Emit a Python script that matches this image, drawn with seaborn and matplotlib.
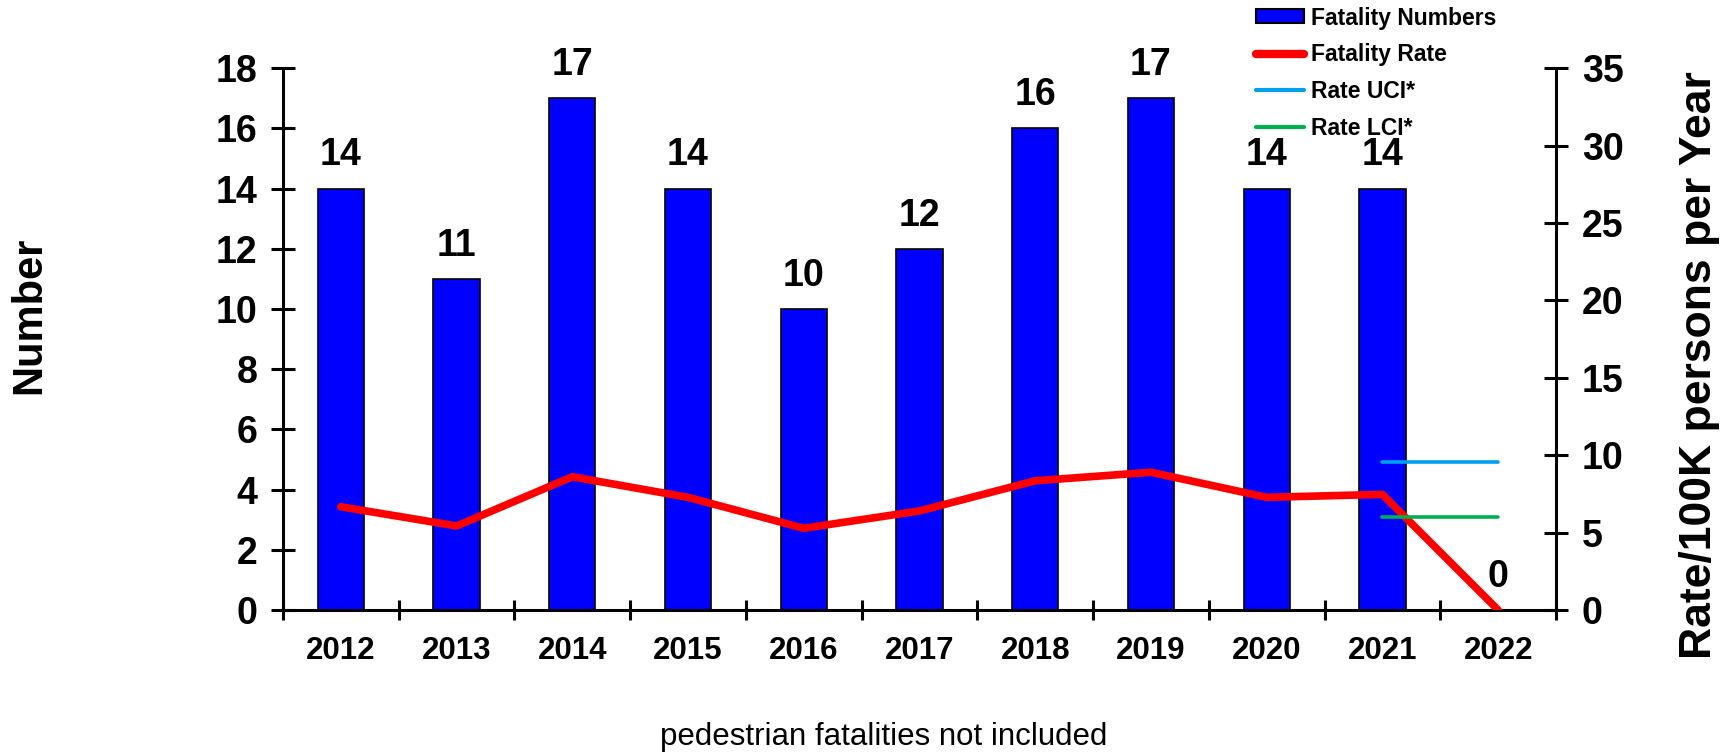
import numpy as np
import pandas as pd
import matplotlib
matplotlib.use('Agg')
import matplotlib.pyplot as plt
from matplotlib.patches import Patch
from matplotlib.lines import Line2D
import seaborn as sns

# data
years = ['2012', '2013', '2014', '2015', '2016', '2017', '2018', '2019', '2020', '2021', '2022']
fatalities = [14, 11, 17, 14, 10, 12, 16, 17, 14, 14, 0]
rate = [6.67, 5.43, 8.61, 7.28, 5.28, 6.4, 8.35, 8.9, 7.28, 7.47, 0.0]
rate_uci = [np.nan] * 9 + [9.56, 9.56]
rate_lci = [np.nan] * 9 + [6.0, 6.0]

df = pd.DataFrame({'year': years, 'n': fatalities, 'rate': rate,
                   'uci': rate_uci, 'lci': rate_lci})
df['pos'] = np.arange(len(df))

sns.set_style('white')
plt.rcParams['font.family'] = ['Liberation Sans', 'DejaVu Sans']
plt.rcParams['font.weight'] = 'bold'
for k in ('text.color', 'axes.labelcolor', 'xtick.color', 'ytick.color'):
    plt.rcParams[k] = 'black'

fig = plt.figure(figsize=(17.25, 7.52), dpi=100)
ax = fig.add_axes([283 / 1725, 1 - 610 / 752, 1273 / 1725, (610 - 68.3) / 752])

#棒グラフ（死亡者数）
sns.barplot(data=df, x='year', y='n', color='#0000ff', saturation=1,
            width=0.4, edgecolor='black', linewidth=1.2, ax=ax)
ax.set_xlim(-0.5, len(years) - 0.5)
ax.set_ylim(0, 18)
ax.set_yticks(range(0, 19, 2))
ax.set_xlabel('')
ax.set_ylabel('')

for p, v in zip(ax.patches, fatalities):
    ax.annotate(str(v), (p.get_x() + p.get_width() / 2, p.get_height()),
                xytext=(0, 11), textcoords='offset points',
                ha='center', va='bottom', fontsize=27, fontweight='bold')

#折れ線（率）
ax2 = ax.twinx()
sns.lineplot(data=df, x='pos', y='rate', color='#ff0000', linewidth=5.5,
             ax=ax2, solid_capstyle='round')
sns.lineplot(data=df, x='pos', y='uci', color='#00a0f0', linewidth=2.6,
             ax=ax2, solid_capstyle='round')
sns.lineplot(data=df, x='pos', y='lci', color='#00b050', linewidth=2.6,
             ax=ax2, solid_capstyle='round')
ax2.set_ylim(0, 35)
ax2.set_yticks(range(0, 36, 5))
ax2.set_xlim(-0.5, len(years) - 0.5)
ax2.set_xlabel('')
ax2.set_ylabel('')

for a in (ax, ax2):
    for s in a.spines.values():
        s.set_visible(False)
ax.spines['left'].set_visible(True)
ax.spines['bottom'].set_visible(True)
ax2.spines['right'].set_visible(True)
for s in (ax.spines['left'], ax.spines['bottom'], ax2.spines['right']):
    s.set_linewidth(2.2)
    s.set_color('black')

ax.tick_params(axis='y', direction='inout', length=17, width=2.2,
               labelsize=27, pad=10, left=True)
ax2.tick_params(axis='y', direction='inout', length=17, width=2.2,
                labelsize=27, pad=10, right=True)
# x ticks at the category borders, labels at the centres
ax.set_xticks(np.arange(-0.5, len(years), 1.0))
ax.set_xticklabels([])
ax.set_xticks(np.arange(len(years)), minor=True)
ax.set_xticklabels(years, minor=True, fontsize=22.5, fontweight='bold')
ax.tick_params(axis='x', which='major', direction='inout', length=15,
               width=2.2, bottom=True)
ax.tick_params(axis='x', which='minor', length=0, pad=19)
for lab in ax.get_yticklabels() + ax2.get_yticklabels():
    lab.set_fontweight('bold')

fig.text(29 / 1725, 1 - 315 / 752, 'Number', rotation=90, ha='center',
         va='center', fontsize=30, fontweight='bold')
fig.text(1700 / 1725, 1 - 365 / 752, 'Rate/100K persons per Year',
         rotation=90, ha='center', va='center', fontsize=32, fontweight='bold')
fig.text(884 / 1725, 1 - 737 / 752, 'pedestrian fatalities not included',
         ha='center', va='center', fontsize=22.5, fontweight='normal')

handles = [Patch(facecolor='#0000ff', edgecolor='black', linewidth=1.5),
           Line2D([], [], color='#ff0000', linewidth=6, solid_capstyle='round'),
           Line2D([], [], color='#00a0f0', linewidth=3, solid_capstyle='round'),
           Line2D([], [], color='#00b050', linewidth=3, solid_capstyle='round')]
labels = ['Fatality Numbers', 'Fatality Rate', 'Rate UCI*', 'Rate LCI*']
fig.legend(handles, labels, loc='upper left',
           bbox_to_anchor=(1256 / 1725, 1 - 6.5 / 752), frameon=False,
           prop={'size': 16.5, 'weight': 'bold'}, handlelength=2.1,
           handleheight=0.55, handletextpad=0.3, labelspacing=0.6,
           borderpad=0, borderaxespad=0)

fig.savefig('out.png', dpi=100, facecolor='white')
